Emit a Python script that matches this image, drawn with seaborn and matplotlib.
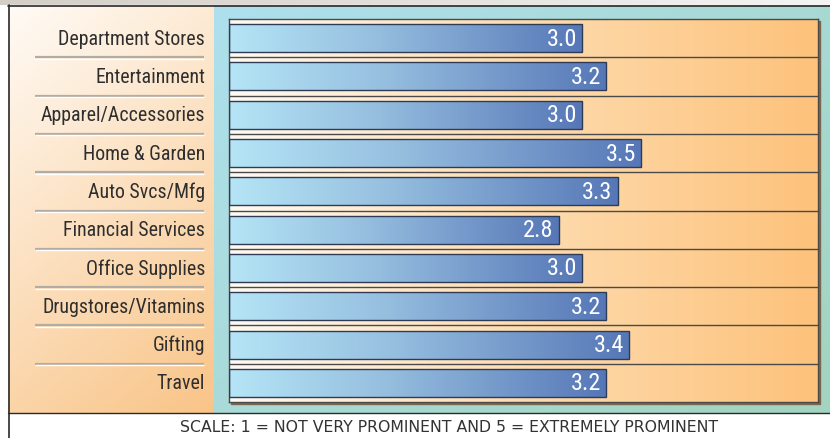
import numpy as np
import pandas as pd
import matplotlib
matplotlib.use("Agg")
import matplotlib.pyplot as plt
from matplotlib.colors import LinearSegmentedColormap, to_rgb
import seaborn as sns

categories = ["Department Stores", "Entertainment", "Apparel/Accessories", "Home & Garden",
              "Auto Svcs/Mfg", "Financial Services", "Office Supplies",
              "Drugstores/Vitamins", "Gifting", "Travel"]
values = [3.0, 3.2, 3.0, 3.5, 3.3, 2.8, 3.0, 3.2, 3.4, 3.2]
caption = "SCALE: 1 = NOT VERY PROMINENT AND 5 = EXTREMELY PROMINENT"

sns.set_theme(style="white")
FONT = ["Roboto Condensed", "Liberation Sans", "DejaVu Sans"]
plt.rcParams["font.family"] = FONT

W, H = 830, 439
fig = plt.figure(figsize=(W / 100, H / 100), dpi=100)

# ---- background layer in pixel coordinates ----
bg = fig.add_axes([0, 0, 1, 1])
bg.set_xlim(0, W)
bg.set_ylim(H, 0)
bg.axis("off")


def diag_grad(c0, c1, n=200, horiz=0.5):
    c0, c1 = np.array(to_rgb(c0)), np.array(to_rgb(c1))
    xx, yy = np.meshgrid(np.linspace(0, 1, n), np.linspace(0, 1, n))
    t = horiz * xx + (1 - horiz) * yy
    return c0[None, None, :] * (1 - t[..., None]) + c1[None, None, :] * t[..., None]


# top strip
bg.imshow(diag_grad("#d3cec6", "#f4f4f4", horiz=1.0), extent=(0, W, 6, 0), aspect="auto", zorder=0)
# white base
bg.add_patch(plt.Rectangle((8, 6), W - 8, H - 6, color="white", zorder=0.5))
# left orange panel
bg.imshow(diag_grad("#fffbf6", "#f9c487", horiz=0.3), extent=(8, 214, 414, 6), aspect="auto", zorder=1)
# teal panel
bg.imshow(diag_grad("#aee0ee", "#a3d4bf", horiz=0.55), extent=(214, W, 414, 6), aspect="auto", zorder=1)
# frame lines
bg.plot([8, W], [6.5, 6.5], color="#2a2a2a", lw=1.2, zorder=3)
bg.plot([8.5, 8.5], [6, H], color="#2a2a2a", lw=1.2, zorder=3)
bg.plot([8, W], [414.5, 414.5], color="#2a2a2a", lw=1.0, zorder=3)
# shadow for inner plot area
bg.add_patch(plt.Rectangle((230.5, 22), 589.5, 383, color="#7b6650", zorder=2))

# left separators and labels
row_h = 383 / 10
for k in range(1, 10):
    y = 20 + row_h * k
    bg.plot([35, 204], [y, y], color="#b3aca3", lw=1.6, zorder=3, solid_capstyle="butt")
    bg.plot([35, 204], [y + 1.5, y + 1.5], color="#ffffff", lw=1.0, zorder=3, solid_capstyle="butt")
for i, cat in enumerate(categories):
    y = 20 + row_h * (i + 0.5)
    bg.text(205, y, cat, ha="right", va="center", fontsize=14.3, color="#2e2e2e",
            family=FONT, zorder=4)

bg.text(449, 427.5, caption, ha="center", va="center", fontsize=11.3, color="#333333",
        family=["DejaVu Sans"], zorder=4)

# ---- main bar axes ----
ax = fig.add_axes([228.5 / W, (H - 403) / H, 589.5 / W, 383 / H])
df = pd.DataFrame({"category": categories, "value": values})
sns.barplot(data=df, x="value", y="category", orient="h", ax=ax, width=0.73,
            edgecolor="#2f3b55", linewidth=1.0, color="#5677b7", zorder=3)
xmin, xmax = 0.0, 5.0
ax.set_xlim(xmin, xmax)
ax.set_ylim(9.5, -0.5)

row_cmap = LinearSegmentedColormap.from_list("row", ["#fffaf3", "#fedcb0", "#fdc27b"])
grad = np.linspace(0, 1, 256)[None, :]
ax.imshow(grad, cmap=row_cmap, extent=(xmin, xmax, 9.5, -0.5), aspect="auto", zorder=0)
for k in range(9):
    ax.axhline(k + 0.5, color="#4a4a4a", lw=1.0, zorder=1)

bar_cmap = LinearSegmentedColormap.from_list("bar", [(0, "#b5e5f6"), (0.4, "#97c0e0"), (1, "#5677b7")])
for p in ax.patches:
    x0, y0 = p.get_x(), p.get_y()
    w, h = p.get_width(), p.get_height()
    p.set_facecolor("none")
    im = ax.imshow(grad, cmap=bar_cmap, extent=(x0, x0 + w, y0 + h, y0), aspect="auto", zorder=2)
    im.set_clip_path(p)

for i, v in enumerate(values):
    ax.annotate(f"{v:.1f}", xy=(v, i), xytext=(-5, 0), textcoords="offset pixels",
                ha="right", va="center", color="white", fontsize=17.5, family=FONT, zorder=5)

ax.set_xlim(xmin, xmax)
ax.set_ylim(9.5, -0.5)
ax.set_xlabel("")
ax.set_ylabel("")
ax.set_xticks([])
ax.set_yticks([])
for s in ax.spines.values():
    s.set_visible(True)
    s.set_color("#4a4a4a")
    s.set_linewidth(1.0)

fig.savefig("out.png", dpi=100)
